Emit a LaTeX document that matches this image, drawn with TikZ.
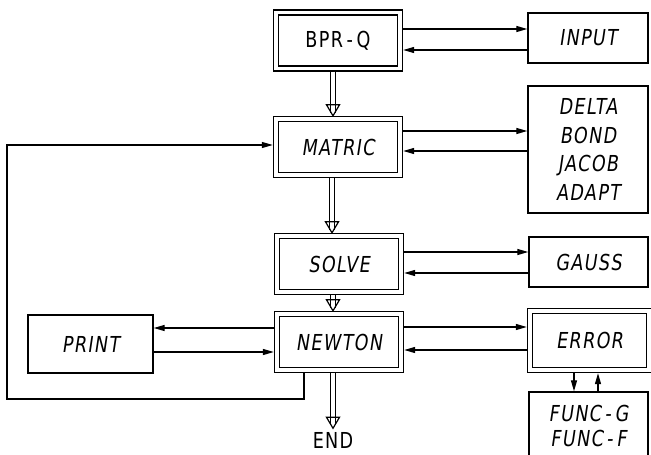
\documentclass[tikz,border=0pt]{standalone}
\usepackage{fontspec}
\newfontfamily\boxfont{DejaVu Sans}[FakeStretch=0.8,FakeSlant=0.15,LetterSpace=6]
\newfontfamily\boxfontup{DejaVu Sans}[FakeStretch=0.8,LetterSpace=6]
\usetikzlibrary{arrows.meta,positioning,calc}

% program flow: double shaft with an open head
\newcommand\flow[2]{%
  \draw[dshaft] (#1) -- ($(#2)+(0,-3)$);
  \draw[dhead] ($(#2)+(-6.5,-11)$) -- (#2) -- ($(#2)+(6.5,-11)$) -- cycle;}

\begin{document}
\begin{tikzpicture}[x=1pt, y=-1pt, line width=1.4pt,
  every node/.style={font=\boxfont\fontsize{22}{28}\selectfont, inner sep=0pt},
  box/.style={draw, minimum width=120pt, minimum height=50pt},
  dbox/.style={draw, double, double distance=3.4pt, outer sep=3.2pt,
    minimum width=124pt, minimum height=56pt},
  arr/.style={-{Triangle[length=11pt,width=6pt]}, line width=1.3pt},
  dshaft/.style={double, double distance=3.4pt, line width=1.2pt},
  dhead/.style={line width=1.2pt, line join=miter}]
  \useasboundingbox (0,0) rectangle (651,455);

  % main chain
  \node[dbox, font=\boxfontup\fontsize{22}{28}\selectfont] (bprq) at (338,40.5) {BPR\,-\,Q};
  \node[dbox] (matric) at (338,147) {MATRIC};
  \node[dbox] (solve) at (339,264) {SOLVE};
  \node[dbox] (newton) at (339,342) {NEWTON};
  \node[font=\boxfontup\fontsize{22}{28}\selectfont] (end) at (333,440) {END};

  % subroutines
  \node[box] (input) at (588,38) {INPUT};
  \node[box, minimum height=127pt, align=center,
    font=\boxfont\fontsize{22}{28.7}\selectfont] (delta) at (588,149.5)
    {DELTA\\BOND\\JACOB\\ADAPT};
  \node[box, minimum width=119pt] (gauss) at (588.5,262) {GAUSS};
  \node[dbox, minimum width=119pt, minimum height=59pt] (error) at (589.5,340.5) {ERROR};
  \node[box, minimum width=119pt, minimum height=68pt, align=center,
    font=\boxfont\fontsize{22}{25}\selectfont] (func) at (588.5,426)
    {FUNC\,-\,G\\FUNC\,-\,F};
  \node[box, minimum width=125pt, minimum height=58pt] (print) at (90.5,344) {PRINT};
  \coordinate (loop) at (7,399);

  % calls and returns
  \draw[arr] ([yshift=11.5pt]bprq.east) -- ([yshift=11.5pt]bprq.east -| input.west);
  \draw[arr] ([yshift=-9.5pt]bprq.east -| input.west) -- ([yshift=-9.5pt]bprq.east);
  \draw[arr] ([yshift=16pt]matric.east) -- ([yshift=16pt]matric.east -| delta.west);
  \draw[arr] ([yshift=-4pt]matric.east -| delta.west) -- ([yshift=-4pt]matric.east);
  \draw[arr] ([yshift=12pt]solve.east) -- ([yshift=12pt]solve.east -| gauss.west);
  \draw[arr] ([yshift=-9pt]solve.east -| gauss.west) -- ([yshift=-9pt]solve.east);
  \draw[arr] ([yshift=15pt]newton.east) -- ([yshift=15pt]newton.east -| error.west);
  \draw[arr] ([yshift=-8pt]newton.east -| error.west) -- ([yshift=-8pt]newton.east);
  \draw[arr] ([yshift=14pt]newton.west) -- ([yshift=14pt]newton.west -| print.east);
  \draw[arr] ([yshift=-10pt]newton.west -| print.east) -- ([yshift=-10pt]newton.west);
  \draw[arr] ([xshift=-15.5pt]error.south) -- ([xshift=-15.5pt]error.south |- func.north);
  \draw[arr] ([xshift=8.5pt]error.south |- func.north) -- ([xshift=8.5pt]error.south);
  \draw[arr, line width=1.1pt] ([xshift=-35pt]newton.south) |- (loop) |- ([yshift=2pt]matric.west);

  % program flow
  \flow{[xshift=-5pt]bprq.south}{[xshift=-5pt]bprq.south |- matric.north}
  \flow{[xshift=-6pt]matric.south}{[xshift=-6pt]matric.south |- solve.north}
  \flow{[xshift=-6pt]solve.south}{[xshift=-6pt]solve.south |- newton.north}
  \flow{[xshift=-6pt]newton.south}{[xshift=-6pt,yshift=3pt]newton.south |- end.north}
\end{tikzpicture}
\end{document}
